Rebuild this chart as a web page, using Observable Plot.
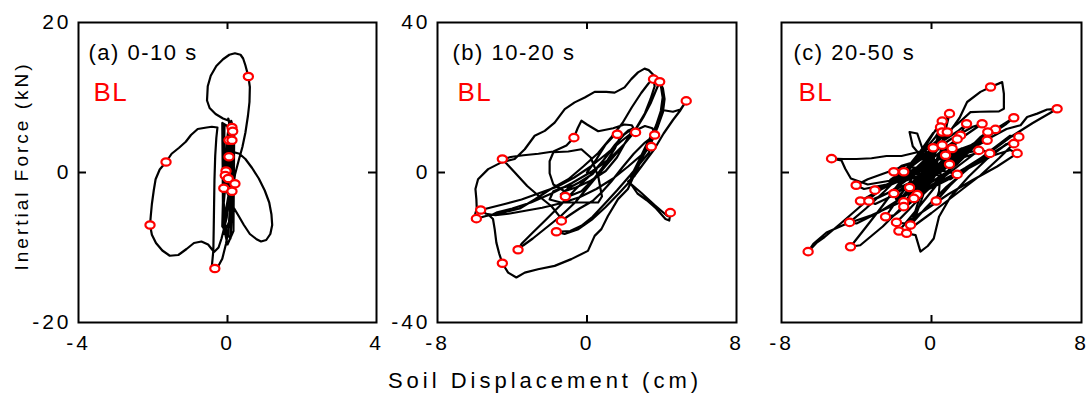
<!DOCTYPE html>
<html>
<head>
<meta charset="utf-8">
<script src="https://cdn.jsdelivr.net/npm/d3@7"></script>
<script src="https://cdn.jsdelivr.net/npm/@observablehq/plot@0.6"></script>
<style>
  html, body { margin: 0; padding: 0; background: #fff; }
  #chart { position: relative; width: 1090px; height: 398px; overflow: hidden;
           font-family: "Liberation Sans", Arial, sans-serif; }
  .panel { position: absolute; top: 0; }
  .panel svg { overflow: visible; background: transparent !important; }
  .panel [aria-label$="tick label"] text { letter-spacing: 3px; }
  .panel [aria-label="text"] text { letter-spacing: 1.5px; }
  .xtitle { position: absolute; left: 0; width: 1090px; top: 368px; text-align: center;
            font-size: 22px; letter-spacing: 4px; color: #000; white-space: nowrap; }
  .ytitle { position: absolute; left: 22px; top: 166px; font-size: 19px; letter-spacing: 3px;
            color: #000; white-space: nowrap; transform: translate(-50%, -50%) rotate(-90deg); }
</style>
</head>
<body>
<div id="chart"></div>
<script>
// Soil displacement (cm) vs inertial force (kN), three time windows.

// ---- (a) 0-10 s ----
const loopA = [
  [0,0],[0.04,2.5],[0.08,5.5],[0.05,6.8],[-0.02,4],[-0.08,0],[-0.1,-4],[-0.06,-7.2],[0.02,-8.4],[0.06,-5],
  [0.1,-1],[0.12,3],[0.14,6.2],[0.1,6.9],[0.02,3],[-0.04,-1],[-0.12,-5],[-0.1,-7.6],[-0.02,-6],[0.04,-2],
  [0.08,2],[0.12,5.8],[-0.14,6.6],[-0.13,1.0],[-0.12,-6.8],[0.0,-9.6],[0.16,-7.8],[0.17,-1.0],[0.18,5.8],
  [-0.08,6.4],[-0.1,0.5],[-0.14,-7.2],[0.08,-8.8],[0.14,-3.0],[0.16,4.0],[0.02,7.2],
  [0.04,6.9],[-0.12,7.2],[-0.32,7.8],[-0.48,8.6],[-0.55,9.6],[-0.53,11.5],[-0.45,12.9],[-0.3,14.2],
  [-0.12,15.1],[0.05,15.7],[0.2,15.9],[0.35,15.7],[0.42,15.2],[0.48,14.3],[0.56,12.8],[0.6,11.4],
  [0.59,9.4],[0.55,7.6],[0.48,5.3],[0.4,3.4],[0.3,1.6],[0.2,-0.3],[0.14,-2.4],[0.1,-4.6],[0.04,-7.2],
  [-0.04,-9.5],[-0.14,-11.5],[-0.26,-12.6],[-0.34,-12.8],[-0.42,-12.5],[-0.38,-10.4],[-0.37,-7.5],
  [-0.36,-4.2],[-0.35,-1],[-0.33,2.2],[-0.3,4.6],[-0.27,6.0],
  [-0.42,6.1],[-0.56,6.0],[-0.8,5.8],[-0.98,5.0],[-1.12,4.1],[-1.3,3.3],[-1.5,2.5],[-1.65,1.4],
  [-1.82,0.4],[-1.93,-0.9],[-1.98,-2.4],[-2.03,-4.2],[-2.06,-5.8],[-2.08,-7.0],[-2.03,-8.3],[-1.92,-9.4],
  [-1.75,-10.4],[-1.55,-11.1],[-1.32,-11.0],[-1.1,-10.2],[-0.9,-9.4],[-0.7,-9.2],[-0.52,-9.6],
  [-0.36,-10.6],[-0.24,-10.0],[-0.16,-8.8],[-0.08,-7.2],[0,-5],[0.05,-3],
  [0.1,-0.5],[0.16,1.6],[0.18,2.7],[0.32,2.5],[0.48,1.8],[0.66,0.6],[0.84,-0.8],[1.0,-2.4],[1.12,-4.0],
  [1.18,-5.6],[1.2,-7.0],[1.15,-8.2],[1.04,-9.0],[0.9,-9.2],[0.78,-8.9],[0.6,-8.2],[0.44,-7.0],
  [0.3,-5.8],[0.18,-4.8],[0.08,-4.0],
  [0.0,-2],[-0.04,1],[0.0,4],[0.1,6],[0.12,4],[0.06,0],[0.02,-3],[-0.02,-2.5],[0.1,-2.5],[0.2,-1.5],
  [0.12,-0.5],[-0.06,-5.5],[-0.1,-8.2],[0.06,-6.4],[0.12,0.6],[0.0,0]
];
const peaksA = [
  [0.56,12.8],[0.12,6.0],[0.14,5.5],[0.04,4.3],[0.12,4.3],[0.04,2.1],[-0.04,0.2],[-0.06,-0.4],
  [0.02,-0.8],[0.2,-1.5],[-0.1,-2.1],[0.12,-2.5],[-1.65,1.4],[-2.08,-7.0],[-0.34,-12.8]
];

// ---- (b) 10-20 s ----
const loopB = [
  [0,0],[0.5,3.5],[1.0,7.5],[1.4,9.6],[1.62,10.2],[1.75,9.2],[1.5,6.5],[1.0,2.5],[0.4,-1.5],[-0.3,-5],
  [-0.9,-6.2],[-1.16,-6.4],[-1.4,-5.8],[-1.0,-4.2],[-0.4,-2.6],[0.3,-0.4],[0.9,3.4],[1.5,7.4],[2.0,10.2],
  [2.4,11.6],[2.6,10.7],
  [2.4,12.6],[2.0,12.8],[1.4,11.8],[0.6,11.0],[0.0,12.8],[-0.3,13.8],[-0.5,11.8],[-0.7,9.3],[-1.1,7.2],
  [-1.8,5.6],[-2.6,5.0],[-3.4,4.6],[-4.0,4.2],[-4.53,3.6],
  [-3.9,0.2],[-3.2,-3.6],[-2.5,-6.6],[-1.9,-9.0],[-1.5,-11.5],[-1.37,-12.9],
  [-1.0,-11.6],[-0.4,-9.6],[0.3,-7.6],[0.8,-5.2],[1.3,-2.4],[1.9,1.4],[2.5,5.0],[3.1,8.0],[3.62,10.0],
  [3.5,11.8],[3.1,12.4],[2.5,11],[1.8,8.2],[1.0,4.8],[0.2,1.6],[-0.7,-1.4],[-1.6,-3.8],[-2.5,-5.4],
  [-3.5,-7.2],[-4.4,-8.4],[-5.2,-9.4],[-5.69,-10.0],
  [-5.4,-11.0],[-4.9,-11.4],[-4.2,-11.0],[-3.3,-10.2],[-2.4,-9.4],[-1.4,-8.2],[-0.4,-6.6],[0.5,-4.4],
  [1.4,-1.6],[2.2,1.6],[2.9,4.6],[3.44,6.9],
  [3.3,5.2],[2.9,2.8],[2.3,-0.8],[1.6,-4.8],[0.9,-8.6],[0.3,-11.8],[-0.3,-14.2],[-0.9,-15.6],[-1.64,-15.8],
  [-1.2,-16.4],[-0.5,-15.2],[0.3,-12.4],[1.0,-9.2],[1.7,-5.6],[2.4,-1.8],[3.0,2.2],[3.6,6.2],[4.1,10.4],
  [4.6,14.0],[5.0,16.6],[5.31,19.1],
  [5.0,16.8],[4.6,16.2],[4.1,16.6],[3.9,15.0],[3.6,11.4],[3.2,7.6],[2.8,3.4],[2.4,-0.6],[2.3,-2.7],
  [2.7,-5.6],[3.2,-7.4],[3.7,-9.6],[4.2,-12.4],[4.4,-12.8],[4.46,-10.7],
  [4.3,-11.6],[3.6,-8.6],[2.9,-5.4],[2.2,-2.4],[2.55,-0.9],[2.91,3.6],[3.44,8],[3.8,12.4],[4.06,16],
  [4.15,19.6],[4.06,22.5],[3.89,24.2],[3.6,25.8],[3.3,27.3],[3.08,27.7],[2.73,26.7],[2.37,24.9],
  [2.01,22.7],[1.48,21.3],[1.03,21.5],[0.41,21.5],[-0.12,20],[-0.66,18.7],[-1.19,16.9],[-1.73,13.3],
  [-2.26,11.1],[-2.8,9.8],[-3.33,6.2],[-3.87,3.6],[-4.58,2.7],[-5.29,0.9],[-5.83,-1.8],[-5.97,-4.4],
  [-5.92,-7.1],[-5.9,-9.6],[-6.0,-11.4],[-5.92,-12.3],
  [-5.4,-11.6],[-4.6,-10.8],[-3.6,-9.6],[-2.8,-7.2],[-2.0,-4.6],[-1.0,-1.8],[-0.2,1.6],[0.6,5.2],
  [1.3,9.4],[1.9,13.2],[2.4,17.4],[2.9,21.2],[3.3,23.8],[3.56,24.9],
  [3.62,23.0],[3.4,19.6],[3.1,15.8],[2.6,11.6],[2.0,7.6],[1.2,3.6],[0.3,0.4],[-0.8,-2.8],[-1.9,-5.6],
  [-3.0,-8.0],[-4.0,-9.6],[-4.8,-10.6],[-5.2,-11.6],[-5.03,-12.4],[-4.94,-15.1],[-4.85,-18.7],
  [-4.7,-21.6],[-4.53,-24.2],
  [-4.22,-26.7],[-3.78,-28],[-3.33,-26.7],[-2.62,-25.8],[-1.73,-24.9],[-0.84,-23.1],[0.05,-20.9],
  [0.41,-16.9],[0.77,-15.1],[1.12,-11.6],[1.66,-7.1],[2.19,-4.4],[2.6,0.2],[3.0,4.4],[3.4,8.6],
  [3.7,12.6],[3.95,16.4],[4.05,20.0],[3.95,23.2],[3.89,24.2],
  [3.7,22.0],[3.4,18.4],[3.0,14.6],[2.5,10.6],[1.8,6.4],[1.0,1.8],[0.2,-3.0],[-0.6,-7.8],[-1.4,-11.6],
  [-2.2,-14.8],[-2.9,-17.6],[-3.4,-19.4],[-3.69,-20.6],
  [-3.5,-19.0],[-2.9,-16.0],[-2.2,-12.6],[-1.4,-8.6],[-0.6,-4.4],[0.2,-0.6],[0.9,3.4],[1.5,7.2],
  [1.9,9.8],[2.2,11.2],[2.4,11.6],[2.3,10.2],[1.6,4.0],[1.0,0.4],
  [0.2,-2.2],[-0.6,-4.0],[-1.2,-5.0],[-1.8,-3.2],[-2.0,-0.2],[-2.0,3.0],[-1.8,5.4],[-1.0,5.6],
  [-0.3,6.2],[0.2,4.0],[0.6,-1.0],[0.8,-6.4],[0.6,-8.0],[-0.4,-8.0],[-1.4,-8.0],[-2.0,-7.2],
  [-1.8,-5.0],[-1.3,-4.0],[-0.7,-3.4]
];
const peaksB = [
  [3.56,24.9],[3.89,24.2],[5.31,19.1],[-0.7,9.3],[1.62,10.2],[2.6,10.7],[3.62,10.0],[3.44,6.9],
  [-4.53,3.6],[-1.16,-6.4],[-5.69,-10.0],[-5.92,-12.3],[-1.37,-12.9],[-1.64,-15.8],[-3.69,-20.6],
  [-4.53,-24.2],[4.46,-10.7]
];

// ---- (c) 20-50 s ----
const loopC = [
  [0,0],[0.6,2.8],[1.2,5.6],[1.0,3.0],[0.2,-0.8],[-0.6,-3.4],[-1.3,-5.4],[-0.9,-2.8],[-0.1,0.6],
  [0.7,3.2],[1.6,6.4],[1.3,4.4],[0.4,0.8],[-0.4,-2.2],[-1.0,-3.8],[-1.6,-6.8],[-1.2,-4.2],[-0.3,-1.4],
  [0.5,2.0],[1.0,3.6],[0.6,1.2],[-0.3,-1.8],[-0.8,-2.6],[-1.1,-5.0],[-0.6,-2.2],[0.3,1.0],[0.9,2.6],
  [1.8,4.4],[1.4,2.4],[0.6,-0.6],[-0.2,-3.2],[-0.7,-4.6],[-1.9,-7.0],[-1.4,-4.4],[-0.5,-1.0],[0.2,2.4],
  [0.4,5.2],[-0.2,2.8],[-0.8,0.6],[-0.5,-1.2],[0.1,-0.4],[0.7,1.0],[0,0],
  [0.3,1.6],[0.7,2.4],[0.96,2.2],
  [0.6,0.4],[-0.2,-0.6],[-0.9,-0.4],[-1.48,0.2],
  [-1.1,1.4],[-0.2,1.0],[0.7,0.4],[1.37,-0.5],
  [1.0,-1.8],[0.1,-2.2],[-1.0,-1.2],[-2.01,0.2],
  [-1.6,1.8],[-0.8,3.0],[0.1,4.6],[0.75,4.6],
  [0.5,2.2],[0.1,-1.6],[-0.4,-4.4],[-0.76,-5.9],
  [-0.7,-3.2],[-0.5,0.4],[-0.2,4.0],[0.09,6.6],
  [0.0,3.6],[-0.4,0.4],[-0.9,-2.4],[-1.17,-4.0],
  [-0.9,-1.8],[-0.2,1.2],[0.5,4.6],[1.1,6.4],
  [0.8,4.0],[0.0,0.8],[-1.0,-2.8],[-2.01,-5.6],
  [-1.6,-3.0],[-0.8,0.4],[0.0,4.4],[0.57,7.3],
  [0.4,4.2],[0.1,0.0],[-0.5,-4.2],[-0.94,-6.9],
  [-0.6,-5.0],[0.4,-2.2],[1.5,2.0],[2.52,5.9],
  [2.0,5.4],[0.8,3.0],[-0.8,0.2],[-2.0,-2.4],[-3.02,-4.7],
  [-2.6,-4.2],[-1.4,-1.6],[0.0,3.6],[0.8,6.8],[1.37,8.9],
  [1.2,6.2],[0.6,2.0],[-0.4,-3.6],[-1.1,-6.6],[-1.48,-7.8],
  [-1.0,-6.4],[0.2,-3.6],[1.4,-0.6],[2.4,2.6],[3.11,5.1],
  [2.8,5.8],[1.8,4.2],[0.4,1.0],[-1.0,-2.4],[-2.4,-5.6],[-3.34,-7.6],
  [-3.0,-8.4],[-2.0,-6.0],[-0.8,-1.8],[0.4,3.8],[1.1,7.6],[1.55,9.9],
  [1.3,8.2],[0.6,3.4],[-0.4,-2.8],[-1.1,-7.0],[-1.48,-9.1],
  [-1.2,-6.2],[-0.6,-1.8],[0.0,3.4],[0.5,7.8],[0.84,10.8],
  [0.6,9.6],[-0.2,5.4],[-1.2,2.2],[-2.4,0.0],[-3.4,-1.8],[-4.02,-3.4],
  [-3.6,-4.4],[-2.4,-3.2],[-1.0,-0.6],[0.6,2.8],[1.9,5.8],[2.97,8.6],
  [2.6,8.2],[1.4,6.0],[0.0,2.6],[-1.4,-1.2],[-2.8,-4.8],[-3.79,-7.6],
  [-3.3,-7.8],[-2.2,-5.2],[-1.0,-0.8],[0.0,5.2],[0.57,10.8],
  [0.3,8.4],[-0.4,3.2],[-1.2,-2.8],[-1.9,-7.8],[-2.45,-11.8],
  [-2.0,-11.4],[-1.0,-7.6],[0.2,-2.8],[1.4,2.6],[2.4,7.4],[3.0,10.8],
  [2.6,9.4],[1.8,5.4],[0.8,0.0],[-0.4,-5.6],[-1.3,-10.4],[-1.87,-13.3],
  [-1.4,-13.6],[-0.4,-10.2],[0.9,-5.8],[2.2,-2.0],[3.5,1.6],[4.57,5.1],
  [4.2,6.0],[3.2,4.4],[2.0,1.2],[0.8,-3.8],[-0.3,-9.4],[-1.12,-14.0],
  [-0.8,-11.0],[-0.4,-5.4],[0.0,1.2],[0.3,7.2],[0.48,12.1],
  [0.1,10.6],[-0.6,5.6],[-1.5,0.0],[-2.5,-5.0],[-3.5,-9.6],[-4.37,-13.3],
  [-4.0,-13.6],[-2.8,-10.6],[-1.4,-6.2],[0.2,-0.8],[1.8,5.0],[2.9,9.6],[3.41,11.5],
  [3.0,10.8],[2.2,7.2],[1.2,2.2],[0.2,-3.8],[-0.8,-10.0],[-1.74,-15.6],
  [-1.2,-15.2],[0.0,-10.8],[1.4,-5.4],[2.6,-0.8],[3.6,3.8],[4.39,7.7],
  [4.0,7.6],[3.0,3.8],[2.0,-1.0],[1.0,-6.6],[0.4,-11.8],[0.12,-17.6],[-0.2,-19.6],[-0.59,-21.1],
  [-0.85,-16.7],[-1.33,-16.2],
  [-1.0,-12.4],[-0.6,-6.2],[-0.2,0.4],[0.2,7.2],[0.57,13.7],
  [0.2,11.2],[-0.6,4.8],[-1.6,-2.0],[-2.6,-8.8],[-3.5,-14.6],[-4.32,-19.8],
  [-3.8,-19.4],[-2.6,-14.4],[-1.4,-8.4],[-0.2,-1.6],[1.0,6.0],[1.87,13.0],
  [1.4,11.0],[0.6,8.4],[-0.6,5.6],[-1.6,4.4],[-2.4,4.4],[-3.2,3.8],[-4.0,3.6],[-4.7,3.6],[-5.33,3.7],
  [-4.8,3.2],[-4.6,1.0],[-4.3,-1.6],[-3.4,-3.2],[-2.0,-2.0],[-0.6,1.8],[0.8,6.4],[2.0,10.6],[2.7,13.0],
  [2.2,12.2],[1.0,8.8],[-0.6,3.4],[-2.2,-2.6],[-3.6,-8.2],[-4.8,-13.4],[-5.7,-17.2],[-6.1,-18.6],
  [-6.58,-21.1],
  [-6.3,-19.0],[-5.6,-16.0],[-4.6,-13.8],[-3.2,-11.4],[-1.6,-7.8],[0.0,-3.6],[1.6,0.6],[3.2,5.0],
  [4.66,9.5],
  [4.2,9.8],[3.2,6.0],[2.0,1.4],[1.0,-3.4],[0.25,-7.6],
  [0.4,-5.0],[0.5,0.8],[0.6,6.8],[0.8,12.4],[0.96,15.7],
  [0.7,13.4],[0.2,9.4],[-0.6,4.6],[-1.4,0.8],[-2.2,-2.0],
  [-1.6,-2.6],[-0.4,-0.4],[1.0,3.8],[2.4,8.2],[3.5,11.8],[4.39,14.6],
  [4.0,13.0],[3.0,9.6],[1.6,5.4],[0.2,1.2],[-0.8,-1.2],[-1.2,-0.6],
  [-0.4,3.2],[0.6,8.2],[1.5,14.6],[1.9,18.8],[2.61,21.5],[3.15,22.8],[3.77,24.1],[3.86,21.0],
  [3.86,17.0],[3.6,16.3],[2.6,16.2],[2.08,16.1],[1.4,13.0],[0.4,9.0],[-0.6,4.6],[-1.0,7.0],
  [-1.17,10.8],[-0.76,10.4],[-0.5,6.6],[0.2,3.2],[1.4,4.8],[2.8,8.4],[4.0,11.6],[4.75,12.6],
  [5.1,14.8],[5.64,15.7],[6.17,16.8],[6.70,17.0],
  [6.3,15.8],[5.4,13.2],[4.2,9.4],[3.0,5.0],[1.8,1.2],[0.8,-1.8],[0,0]
];
const peaksC = [
  [3.15,22.8],[6.70,17.0],[0.96,15.7],[0.57,13.7],[0.48,12.1],[0.57,10.8],[0.84,10.8],[1.87,13.0],
  [2.7,13.0],[4.39,14.6],[3.41,11.5],[3.0,10.8],[2.97,8.6],[1.55,9.9],[1.37,8.9],[1.1,6.4],
  [0.57,7.3],[0.09,6.6],[2.52,5.9],[3.11,5.1],[4.66,9.5],[4.39,7.7],[4.57,5.1],[0.75,4.6],
  [0.96,2.2],[1.37,-0.5],[-5.33,3.7],[-2.01,0.2],[-1.48,0.2],[-4.02,-3.4],[-3.02,-4.7],[-2.01,-5.6],
  [-1.17,-4.0],[-0.76,-5.9],[-0.94,-6.9],[-1.48,-7.8],[-1.48,-9.1],[-3.79,-7.6],[-3.34,-7.6],
  [0.25,-7.6],[-4.37,-13.3],[-2.45,-11.8],[-1.87,-13.3],[-1.12,-14.0],[-1.74,-15.6],[-1.33,-16.2],
  [-4.32,-19.8],[-6.58,-21.1]
];

// Panel settings
const panelNames = ["(a) 0-10 s", "(b) 10-20 s", "(c) 20-50 s"];
const seriesName = "BL";
const dispTicksA = [-4, 0, 4];
const dispTicksBC = [-8, 0, 8];
const forceTicksA = [-20, 0, 20];
const forceTicksB = [-40, 0, 40];
const xTitle = "Soil Displacement (cm)";
const yTitle = "Inertial Force (kN)";

// Slightly flattened ring used for the peak markers
const ringSymbol = {
  draw(ctx) {
    const rx = 4.6, ry = 3.7, k = 0.5523;
    ctx.moveTo(rx, 0);
    ctx.bezierCurveTo(rx, ry * k, rx * k, ry, 0, ry);
    ctx.bezierCurveTo(-rx * k, ry, -rx, ry * k, -rx, 0);
    ctx.bezierCurveTo(-rx, -ry * k, -rx * k, -ry, 0, -ry);
    ctx.bezierCurveTo(rx * k, -ry, rx, -ry * k, rx, 0);
    ctx.closePath();
  }
};

const H = 345, MT = 22, MB = 23;
const plain = d => String(d);

function panel({left, width, ml, mr, xDomain, yDomain, xTicks, yTicks, loop, peaks, name, titleDx, blDx}) {
  const fw = width - ml - mr, fh = H - MT - MB;
  const marks = [
    Plot.line(loop, {x: d => d[0], y: d => d[1], stroke: "#000", strokeWidth: 2.2, strokeLinejoin: "round"}),
    Plot.dot(peaks, {x: d => d[0], y: d => d[1], symbol: ringSymbol, stroke: "#ff0000", strokeWidth: 2.2, fill: "#fff"}),
    Plot.ruleX([0], {insetBottom: fh - 7, strokeWidth: 2}),
    Plot.ruleX([0], {insetTop: fh - 7, strokeWidth: 2}),
    Plot.ruleY([0], {insetRight: fw - 8, strokeWidth: 2}),
    Plot.ruleY([0], {insetLeft: fw - 8, strokeWidth: 2}),
    Plot.frame({stroke: "#000", strokeWidth: 2}),
    Plot.axisX(xTicks, {tickSize: 0, tickPadding: 13, fontSize: 21, label: null, tickFormat: plain}),
    Plot.text([name], {frameAnchor: "top-left", dx: titleDx, dy: 30, lineAnchor: "middle", textAnchor: "start", fontSize: 22, fill: "#000"}),
    Plot.text([seriesName], {frameAnchor: "top-left", dx: blDx, dy: 70, lineAnchor: "middle", textAnchor: "start", fontSize: 26, fill: "#ff0000"})
  ];
  if (yTicks) marks.push(Plot.axisY(yTicks, {tickSize: 0, tickPadding: 7, fontSize: 21, label: null, tickFormat: plain}));
  const svg = Plot.plot({
    width, height: H,
    marginLeft: ml, marginRight: mr, marginTop: MT, marginBottom: MB,
    style: {fontFamily: '"Liberation Sans", Arial, sans-serif', fontSize: "21px", color: "#000", background: "transparent", overflow: "visible"},
    x: {domain: xDomain},
    y: {domain: yDomain, axis: yTicks ? undefined : null},
    marks
  });
  const div = document.createElement("div");
  div.className = "panel";
  div.style.left = left + "px";
  div.appendChild(svg);
  return div;
}

const root = document.getElementById("chart");
root.appendChild(panel({left: 0, width: 380, ml: 78, mr: 4, xDomain: [-4, 4], yDomain: [-20, 20],
  xTicks: dispTicksA, yTicks: forceTicksA, loop: loopA, peaks: peaksA, name: panelNames[0], titleDx: 10, blDx: 15}));
root.appendChild(panel({left: 380, width: 358, ml: 57, mr: 2, xDomain: [-8, 8], yDomain: [-40, 40],
  xTicks: dispTicksBC, yTicks: forceTicksB, loop: loopB, peaks: peaksB, name: panelNames[1], titleDx: 15, blDx: 20}));
root.appendChild(panel({left: 738, width: 352, ml: 43, mr: 9, xDomain: [-8, 8], yDomain: [-40, 40],
  xTicks: dispTicksBC, yTicks: null, loop: loopC, peaks: peaksC, name: panelNames[2], titleDx: 12, blDx: 17}));

const xt = document.createElement("div");
xt.className = "xtitle";
xt.textContent = xTitle;
root.appendChild(xt);
const yt = document.createElement("div");
yt.className = "ytitle";
yt.textContent = yTitle;
root.appendChild(yt);
</script>
</body>
</html>
